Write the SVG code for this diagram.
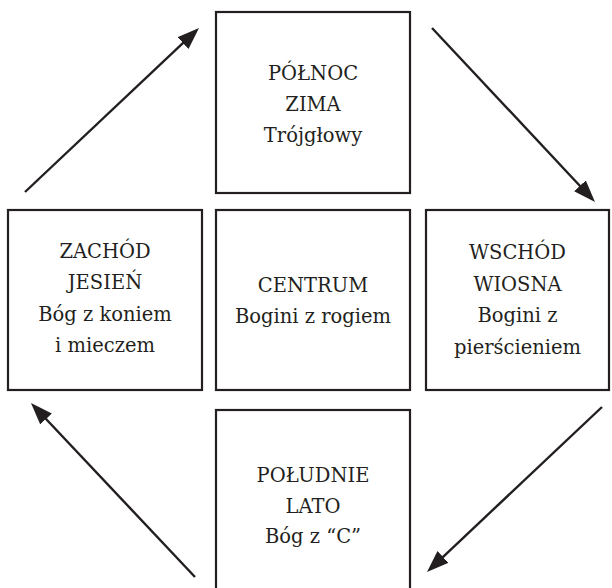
<svg xmlns="http://www.w3.org/2000/svg" width="612" height="588" viewBox="0 0 612 588">
<style>
.box{fill:#fff;stroke:#231f20;stroke-width:2.2}
.lbl{font-family:"DejaVu Serif","Liberation Serif",serif;font-size:19.5px;fill:#231f20;text-anchor:middle}
.conn{stroke:#231f20;stroke-width:2.4;fill:none}
</style>
<defs>
<marker id="ah" viewBox="0 0 22 16" refX="10" refY="8" markerWidth="22" markerHeight="16" markerUnits="userSpaceOnUse" orient="auto">
<path d="M0,0 L22,8 L0,16 Z" fill="#231f20"/>
</marker>
</defs>
<rect width="612" height="588" fill="#fff"/>
<g id="north">
<rect class="box" x="216" y="12" width="194" height="181"/>
<text class="lbl" x="313" y="80">PÓŁNOC</text>
<text class="lbl" x="313" y="111">ZIMA</text>
<text class="lbl" x="313" y="142">Trójgłowy</text>
</g>
<g id="west">
<rect class="box" x="8" y="210" width="194" height="180"/>
<text class="lbl" x="105" y="258">ZACHÓD</text>
<text class="lbl" x="105" y="289">JESIEŃ</text>
<text class="lbl" x="105" y="321">Bóg z koniem</text>
<text class="lbl" x="105" y="352">i mieczem</text>
</g>
<g id="centre">
<rect class="box" x="216" y="210" width="194" height="180"/>
<text class="lbl" x="313" y="292">CENTRUM</text>
<text class="lbl" x="313" y="323">Bogini z rogiem</text>
</g>
<g id="east">
<rect class="box" x="426" y="210" width="183" height="180"/>
<text class="lbl" x="517.5" y="259">WSCHÓD</text>
<text class="lbl" x="517.5" y="291">WIOSNA</text>
<text class="lbl" x="517.5" y="322">Bogini z</text>
<text class="lbl" x="517.5" y="354">pierścieniem</text>
</g>
<g id="south">
<rect class="box" x="216" y="410" width="194" height="190"/>
<text class="lbl" x="313" y="482">POŁUDNIE</text>
<text class="lbl" x="313" y="513">LATO</text>
<text class="lbl" x="313" y="543">Bóg z “C”</text>
</g>
<g id="connectors">
<line class="conn" x1="25" y1="192" x2="190.3" y2="36.2" marker-end="url(#ah)"/>
<line class="conn" x1="432" y1="28" x2="586.8" y2="193.2" marker-end="url(#ah)"/>
<line class="conn" x1="602" y1="407" x2="435.7" y2="563.8" marker-end="url(#ah)"/>
<line class="conn" x1="195" y1="577" x2="39.2" y2="411.7" marker-end="url(#ah)"/>
</g>
</svg>
